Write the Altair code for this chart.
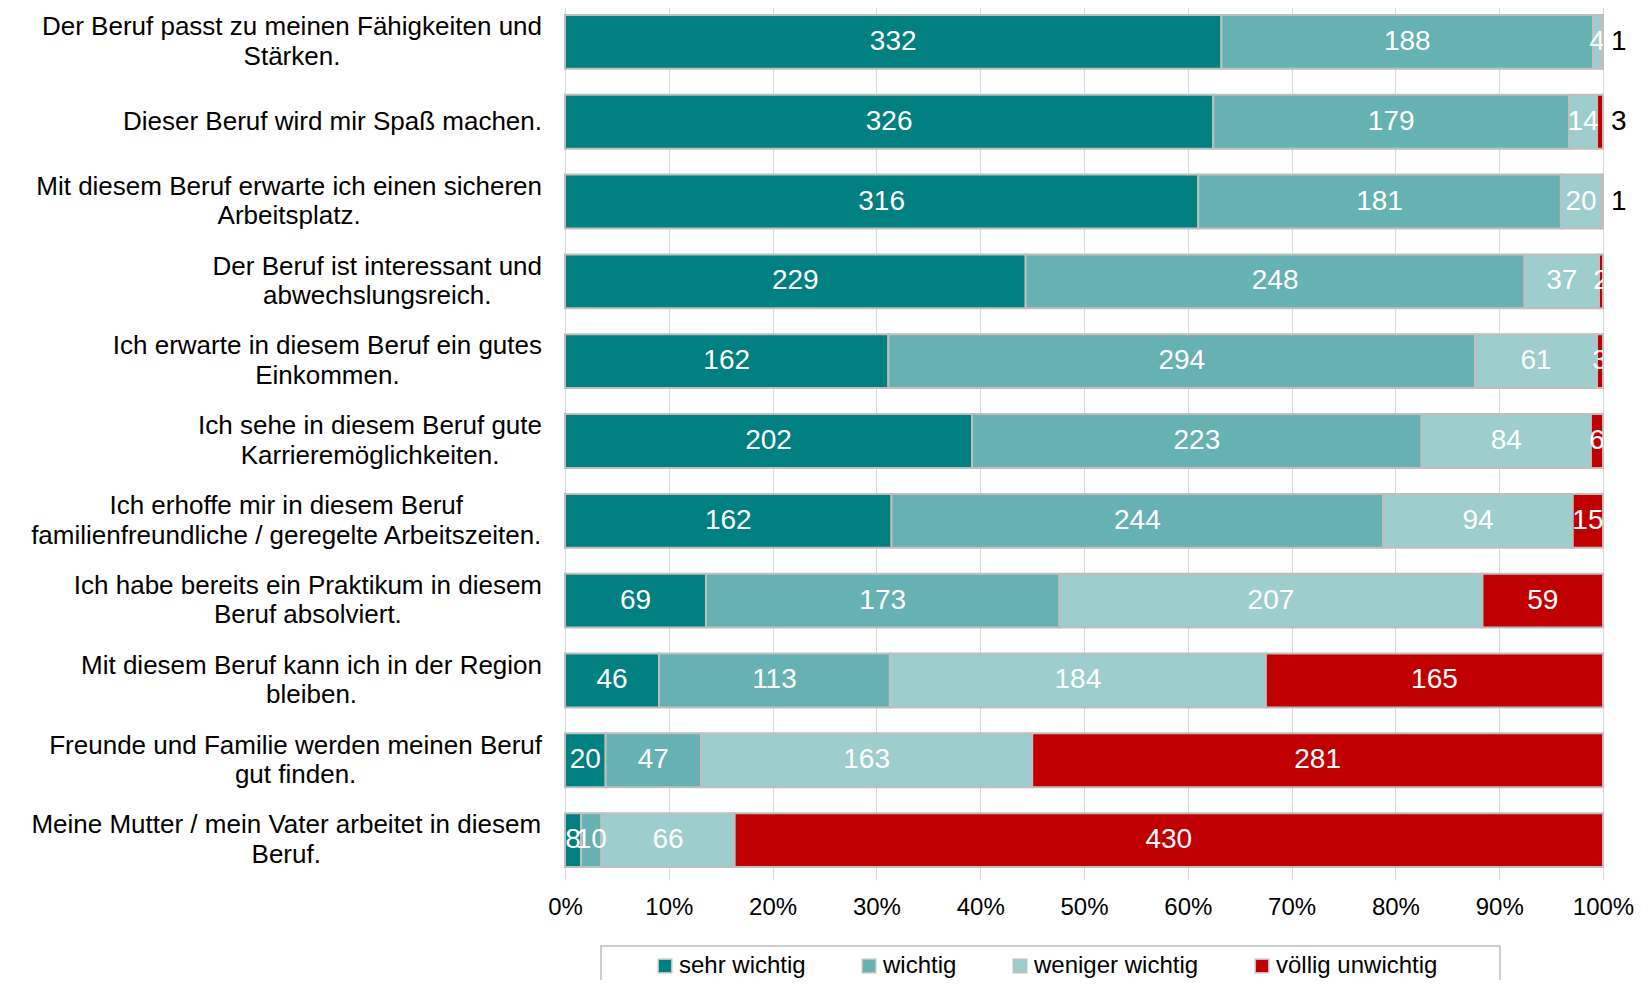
import altair as alt
import pandas as pd

# ---------------- data ----------------
questions = [
    "Der Beruf passt zu meinen Fähigkeiten und|Stärken.",
    "Dieser Beruf wird mir Spaß machen.",
    "Mit diesem Beruf erwarte ich einen sicheren|Arbeitsplatz.",
    "Der Beruf ist interessant und|abwechslungsreich.",
    "Ich erwarte in diesem Beruf ein gutes|Einkommen.",
    "Ich sehe in diesem Beruf gute|Karrieremöglichkeiten.",
    "Ich erhoffe mir in diesem Beruf|familienfreundliche / geregelte Arbeitszeiten.",
    "Ich habe bereits ein Praktikum in diesem|Beruf absolviert.",
    "Mit diesem Beruf kann ich in der Region|bleiben.",
    "Freunde und Familie werden meinen Beruf|gut finden.",
    "Meine Mutter / mein Vater arbeitet in diesem|Beruf.",
]
categories = ["sehr wichtig", "wichtig", "weniger wichtig", "völlig unwichtig"]
sehr_wichtig = [332, 326, 316, 229, 162, 202, 162, 69, 46, 20, 8]
wichtig = [188, 179, 181, 248, 294, 223, 244, 173, 113, 47, 10]
weniger_wichtig = [4, 14, 20, 37, 61, 84, 94, 207, 184, 163, 66]
voellig_unwichtig = [1, 3, 1, 2, 3, 6, 15, 59, 165, 281, 430]
# rows whose "völlig unwichtig" count is printed outside the bar (black)
outside_label = [True, True, True, False, False, False, False, False, False, False, False]
colors = ["#008080", "#66B2B2", "#9DCDCD", "#C00000"]

FONT = "Liberation Sans"
LABEL_SIZE = 26
LABEL_GAP = 23          # px between label block and plot
LINE_STEP = 14.75       # half the line spacing of two-line labels

# ---------- text width (Arial / Liberation Sans metrics) ----------
W = dict(zip("abcdefghijklmnopqrstuvwxyzäöüß",
             [556, 556, 500, 556, 556, 278, 556, 556, 222, 222, 500, 222, 833, 556, 556, 556,
              556, 333, 500, 278, 556, 500, 722, 500, 500, 500, 556, 556, 556, 611]))
W.update(dict(zip("ABCDEFGHIJKLMNOPQRSTUVWXYZ",
                  [667, 667, 722, 722, 667, 611, 778, 722, 278, 500, 667, 556, 833, 722, 778,
                   667, 778, 722, 667, 611, 722, 667, 944, 667, 667, 611])))
W.update({" ": 278, ".": 278, "/": 278})


def text_width(s):
    return sum(W.get(c, 556) for c in s) * LABEL_SIZE / 1000.0


# ---------------- long tables ----------------
rows = []
series = [sehr_wichtig, wichtig, weniger_wichtig, voellig_unwichtig]
for i, q in enumerate(questions):
    for j, cat in enumerate(categories):
        rows.append({
            "q": q,
            "cat": cat,
            "cat_order": j,
            "count": series[j][i],
            "outside": bool(outside_label[i]) and j == 3,
        })
df = pd.DataFrame(rows)

lab_rows = []
for q in questions:
    lines = q.split("|")
    block = max(text_width(s) for s in lines)
    for k, s in enumerate(lines):
        lab_rows.append({
            "q": q,
            "line": s,
            "k": k,
            "n": len(lines),
            "lx": -(LABEL_GAP + block / 2.0),
        })
df_lab = pd.DataFrame(lab_rows)

base = alt.Chart(df).transform_joinaggregate(
    total="sum(count)", groupby=["q"]
).transform_window(
    cum="sum(count)", sort=[alt.SortField("cat_order")], groupby=["q"], frame=[None, 0]
).transform_calculate(
    start="(datum.cum - datum.count) / datum.total",
    end="datum.cum / datum.total",
    mid="(datum.cum - datum.count / 2) / datum.total",
)

y_enc = alt.Y(
    "q:N",
    sort=questions,
    scale=alt.Scale(paddingInner=0.325, paddingOuter=0.1625),
    axis=alt.Axis(title=None, labels=False, ticks=False, domain=False, grid=False),
)

LEGEND_PAD_RIGHT = "\u2800" * 3

bars = base.mark_bar(stroke="#BFBFBF", strokeWidth=2).encode(
    x=alt.X(
        "start:Q",
        scale=alt.Scale(domain=[0, 1], nice=False, zero=True),
        axis=alt.Axis(
            title=None,
            format="%",
            values=[i / 10 for i in range(11)],
            grid=True,
            gridColor="#D9D9D9",
            gridWidth=1,
            ticks=False,
            domain=False,
            labelFlush=False,
            labelFont=FONT,
            labelFontSize=24,
            labelColor="#000000",
            labelPadding=15,
        ),
    ),
    x2="end:Q",
    y=y_enc,
    color=alt.Color(
        "cat:N",
        scale=alt.Scale(domain=categories, range=colors),
        legend=alt.Legend(
            title="\u00a0",
            titleOrient="left",
            titleFontSize=24,
            titlePadding=44,
            orient="none",
            legendX=36,
            legendY=944,
            direction="horizontal",
            symbolType="square",
            symbolSize=180,
            symbolStrokeColor="#BFBFBF",
            symbolStrokeWidth=1.5,
            labelFont=FONT,
            labelFontSize=24,
            labelColor="#000000",
            labelOffset=2,
            labelLimit=600,
            labelExpr="datum.label == 'völlig unwichtig' ? datum.label + '" + LEGEND_PAD_RIGHT + "' : datum.label",
            columnPadding=51,
            padding=8,
            strokeColor="#BFBFBF",
        ),
    ),
)

inside_text = base.transform_filter("!datum.outside").mark_text(
    color="white", font=FONT, fontSize=28, align="center", baseline="middle", clip=True
).encode(
    x="mid:Q",
    y=alt.Y("q:N", sort=questions),
    text="count:Q",
)

outside_text = base.transform_filter("datum.outside").mark_text(
    color="black", font=FONT, fontSize=28, align="left", baseline="middle", dx=8
).encode(
    x="end:Q",
    y=alt.Y("q:N", sort=questions),
    text="count:Q",
)

lab_base = alt.Chart(df_lab)


def label_layer(flt, dy):
    return lab_base.transform_filter(flt).mark_text(
        font=FONT, fontSize=LABEL_SIZE, color="#000000", align="center", baseline="middle", dy=dy
    ).encode(
        x=alt.X("lx:Q", scale=None),
        y=alt.Y("q:N", sort=questions),
        text="line:N",
    )


lab_single = label_layer("datum.n == 1", 0)
lab_top = label_layer("datum.n == 2 && datum.k == 0", -LINE_STEP)
lab_bottom = label_layer("datum.n == 2 && datum.k == 1", LINE_STEP)

chart = alt.layer(
    bars, inside_text, outside_text, lab_single, lab_top, lab_bottom
).properties(
    width=1038,
    height=878,
    autosize=alt.AutoSizeParams(type="none"),
    padding={"left": 557, "top": -6, "right": 40, "bottom": 100},
    background="white",
).configure_view(stroke=None).configure_legend(strokeWidth=1.5)

chart.save("out.html", embed_options={"renderer": "svg", "actions": False})
